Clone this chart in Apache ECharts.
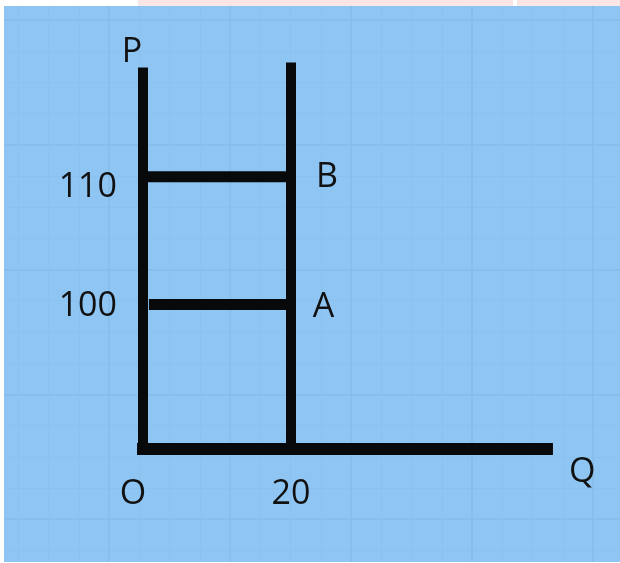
<!DOCTYPE html>
<html>
<head>
<meta charset="utf-8">
<script src="https://cdn.jsdelivr.net/npm/echarts@6/dist/echarts.min.js"></script>
<style>
html,body{margin:0;padding:0;background:#fff;}
#main{width:620px;height:563px;}
</style>
</head>
<body>
<div id="main"></div>
<script>
// 坐标值（图中不是等比例画的，按像素读出来的）
var pOrigin = 88.7;        // 原点处的 P 值
var pTop = 118.55;         // P 轴顶端
var supplyTop = 118.95;    // Q=20 竖线顶端
var qEnd = 55.4;           // Q 轴右端
var qLine = [0, 20];       // O, 20
var priceB = 110;
var priceA = 100;
var lineA_start = 0.8;
var xTicks = [0, 20];
var yTicks = [100, 110];
var xTickNames = ['O', '20'];
var pointNames = ['B', 'A'];

var black = '#08090b';
var font = 'Open Sans';

function lineSeries(data, width) {
	return {
		type: 'line',
		xAxisIndex: 1,
		yAxisIndex: 1,
		data: data,
		symbol: 'none',
		silent: true,
		animation: false,
		lineStyle: {color: black, width: width, cap: 'butt'},
		label: {show: false}
	};
}

function pt(x, y, lab) {//带标签的点
	var item = {value: [x, y]};
	if (lab) {
		item.symbol = 'circle';
		item.symbolSize = 0.1;
		item.label = lab;
	}
	return item;
}

var labStyle = {show: true, color: '#111', fontFamily: font, fontSize: 34};

var myChart = echarts.init(document.getElementById('main'));
var option = {
	backgroundColor: '#8ec5f2',
	animation: false,
	grid: [
		{left: -12, top: -105, width: 726, height: 749, show: false, outerBoundsMode: 'none', containLabel: false},//背景方格
		{left: 143, top: 49, right: 33, bottom: 114, show: false, outerBoundsMode: 'none', containLabel: false}
	],
	xAxis: [{
		gridIndex: 0, type: 'value', min: 0, max: 6, interval: 1,
		axisLine: {show: false}, axisTick: {show: false}, axisLabel: {show: false},
		splitLine: {show: true, lineStyle: {color: '#84bbe9', width: 1.5}},
		minorTick: {show: false, splitNumber: 4},
		minorSplitLine: {show: true, lineStyle: {color: '#8ac1ee', width: 1}}
	}, {
		gridIndex: 1, type: 'value', min: 0, max: 60,
		axisLine: {show: false}, axisTick: {show: false}, splitLine: {show: false},
		axisLabel: {
			show: true, customValues: xTicks, margin: 28,
			color: '#111', fontFamily: font, fontSize: 34,
			formatter: function (v) {
				if (v === 0) return '{o|' + xTickNames[0] + '}';
				return '{n|' + xTickNames[1] + '}';
			},
			rich: {
				o: {fontFamily: font, fontSize: 34, color: '#111', padding: [0, 20, 0, 0]},
				n: {fontFamily: font, fontSize: 34, color: '#111'}
			}
		}
	}],
	yAxis: [{
		gridIndex: 0, type: 'value', min: 0, max: 6, interval: 1, inverse: true,
		axisLine: {show: false}, axisTick: {show: false}, axisLabel: {show: false},
		splitLine: {show: true, lineStyle: {color: '#84bbe9', width: 1.5}},
		minorTick: {show: false, splitNumber: 4},
		minorSplitLine: {show: true, lineStyle: {color: '#8ac1ee', width: 1}}
	}, {
		gridIndex: 1, type: 'value', min: pOrigin, max: 120,
		axisLine: {show: false}, axisTick: {show: false}, splitLine: {show: false},
		axisLabel: {
			show: true, customValues: yTicks, margin: 26,
			formatter: function (v) {
				if (v === 110) return '{lo|' + v + '}';
				return '{n|' + v + '}';
			},
			rich: {
				lo: {fontFamily: font, fontSize: 34, color: '#111', padding: [22, 0, 0, 0]},
				n: {fontFamily: font, fontSize: 34, color: '#111', padding: [4, 0, 0, 0]}
			}
		}
	}],
	graphic: [
		{type: 'rect', z: 100, shape: {x: 0, y: 0, width: 620, height: 6}, style: {fill: '#fbe6e6'}},
		{type: 'rect', z: 101, shape: {x: 0, y: 0, width: 138, height: 6}, style: {fill: '#ffffff'}},
		{type: 'rect', z: 101, shape: {x: 513, y: 0, width: 4, height: 6}, style: {fill: '#ffffff'}},
		{type: 'rect', z: 101, shape: {x: 0, y: 0, width: 4, height: 563}, style: {fill: '#ffffff'}},
		{type: 'rect', z: 101, shape: {x: 0, y: 562, width: 620, height: 1}, style: {fill: '#ffffff'}}
	],
	series: [
		// P 轴
		lineSeries([pt(0, pOrigin - 0.45), pt(0, pTop, Object.assign({}, labStyle, {
			formatter: 'P', position: 'top', distance: 0, offset: [-11, 2]
		}))], 10),
		// Q 轴
		lineSeries([pt(-0.9, pOrigin), pt(qEnd, pOrigin, Object.assign({}, labStyle, {
			formatter: 'Q', position: 'right', distance: 16, offset: [0, 23]
		}))], 12),
		// Q=20 竖线
		lineSeries([pt(qLine[1], pOrigin), pt(qLine[1], supplyTop)], 10),
		// 110 水平线 B
		lineSeries([pt(0.5, priceB), pt(qLine[1], priceB, Object.assign({}, labStyle, {
			formatter: pointNames[0], position: 'right', distance: 25, offset: [0, 1]
		}))], 11),
		// 100 水平线 A
		lineSeries([pt(lineA_start, priceA), pt(qLine[1] - 0.3, priceA, Object.assign({}, labStyle, {
			formatter: pointNames[1], position: 'right', distance: 24, offset: [0, 3]
		}))], 11)
	]
};
myChart.setOption(option);
</script>
</body>
</html>
